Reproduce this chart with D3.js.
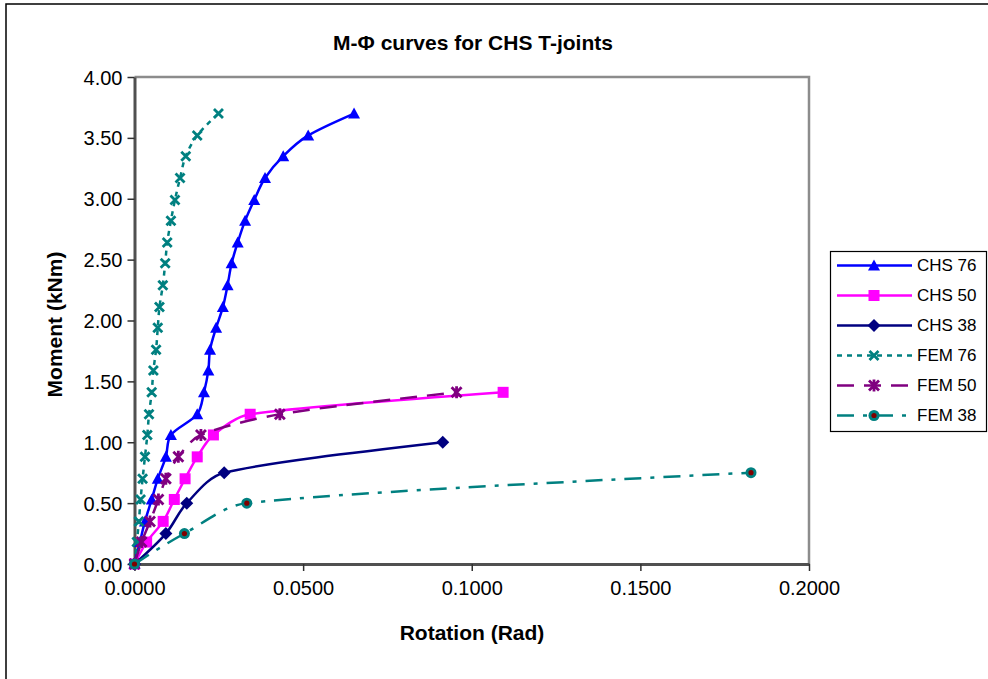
<!DOCTYPE html>
<html>
<head>
<meta charset="utf-8">
<script src="https://cdn.jsdelivr.net/npm/d3@7"></script>
<style>
  html, body { margin: 0; padding: 0; background: #fff; }
  svg { display: block; font-family: Arial, "Liberation Sans", sans-serif; }
</style>
</head>
<body>
<svg id="chart" width="988" height="679"></svg>
<script>
// Moment levels (kNm) and measured rotations (rad) for each joint series
const moment76 = [0, 0.18, 0.35, 0.53, 0.70, 0.88, 1.06, 1.23, 1.41, 1.59, 1.76, 1.94, 2.11, 2.29, 2.47, 2.64, 2.82, 2.99, 3.17, 3.35, 3.52, 3.70];
const chs76Rot = [0, 0.0016, 0.0031, 0.0051, 0.0069, 0.0093, 0.0108, 0.0186, 0.0206, 0.0219, 0.0224, 0.0242, 0.0262, 0.0276, 0.0288, 0.0306, 0.0328, 0.0355, 0.0387, 0.0441, 0.0515, 0.0651];
const fem76Rot = [0, 0.0007, 0.0013, 0.0018, 0.0024, 0.0031, 0.0038, 0.0043, 0.0051, 0.0056, 0.0064, 0.0069, 0.0074, 0.0084, 0.0091, 0.0097, 0.0108, 0.0120, 0.0135, 0.0152, 0.0186, 0.0249];
const moment50 = [0, 0.18, 0.35, 0.53, 0.70, 0.88, 1.06, 1.23, 1.41];
const chs50Rot = [0, 0.0036, 0.0085, 0.0118, 0.0150, 0.0186, 0.0234, 0.0343, 0.1093];
const fem50Rot = [0, 0.0021, 0.0046, 0.0071, 0.0093, 0.0130, 0.0197, 0.0431, 0.0955];
const moment38 = [0, 0.25, 0.50, 0.75, 1.00];
const chs38Rot = [0, 0.0093, 0.0155, 0.0266, 0.0914];
const fem38Moment = [0, 0.25, 0.50, 0.75];
const fem38Rot = [0, 0.0148, 0.0333, 0.1828];

const seriesNames = ["CHS 76", "CHS 50", "CHS 38", "FEM 76", "FEM 50", "FEM 38"];
const xTicks = [0, 0.05, 0.10, 0.15, 0.20];
const yTicks = [0, 0.5, 1.0, 1.5, 2.0, 2.5, 3.0, 3.5, 4.0];

const zip = (xs, ys) => xs.map((x, i) => ({ x, y: ys[i] }));

const series = [
  { name: seriesNames[0], pts: zip(chs76Rot, moment76), color: "#0000ff", dash: null, marker: "triangle" },
  { name: seriesNames[1], pts: zip(chs50Rot, moment50), color: "#ff00ff", dash: null, marker: "square" },
  { name: seriesNames[2], pts: zip(chs38Rot, moment38), color: "#000080", dash: null, marker: "diamond" },
  { name: seriesNames[3], pts: zip(fem76Rot, moment76), color: "#008080", dash: "5,5", marker: "cross" },
  { name: seriesNames[4], pts: zip(fem50Rot, moment50), color: "#800080", dash: "17,10", marker: "star" },
  { name: seriesNames[5], pts: zip(fem38Rot, fem38Moment), color: "#008080", dash: "17,9,4,9", marker: "circle" }
];

const svg = d3.select("#chart");
const plot = { left: 134.5, right: 809, top: 77, bottom: 564 };

const x = d3.scaleLinear().domain([0, 0.2]).range([plot.left, plot.right]);
const y = d3.scaleLinear().domain([0, 4]).range([plot.bottom, plot.top]);

// Outer chart frame
svg.append("rect")
  .attr("x", 6).attr("y", 4).attr("width", 1000).attr("height", 700)
  .attr("fill", "none").attr("stroke", "#000").attr("stroke-width", 1.5);

// Plot area frame (top and right edges)
svg.append("path")
  .attr("d", `M${plot.left},${plot.top}H${plot.right}V${plot.bottom}`)
  .attr("fill", "none").attr("stroke", "#8c8c8c").attr("stroke-width", 2.5);

// Axes
const xAxis = d3.axisBottom(x).tickValues(xTicks).tickFormat(d3.format(".4f")).tickSizeInner(7).tickSizeOuter(0).tickPadding(10);
const yAxis = d3.axisLeft(y).tickValues(yTicks).tickFormat(d3.format(".2f")).tickSizeInner(7).tickSizeOuter(0).tickPadding(5);

const gx = svg.append("g").attr("transform", `translate(0,${plot.bottom})`).call(xAxis);
const gy = svg.append("g").attr("transform", `translate(${plot.left},0)`).call(yAxis);

[gx, gy].forEach(g => {
  g.select(".domain").attr("stroke", "#505050").attr("stroke-width", 3);
  g.selectAll(".tick line").attr("stroke", "#303030").attr("stroke-width", 1.5);
  g.selectAll(".tick text").attr("fill", "#000").style("font-size", "20px").style("font-family", "Arial, 'Liberation Sans', sans-serif");
});
gy.selectAll(".tick text").attr("dy", "0.35em");

// Titles
svg.append("text").attr("x", 473).attr("y", 50).attr("text-anchor", "middle")
  .style("font-size", "21px").style("font-weight", "bold").text("M-Φ curves for CHS T-joints");
svg.append("text").attr("x", 472).attr("y", 640).attr("text-anchor", "middle")
  .style("font-size", "21px").style("font-weight", "bold").text("Rotation (Rad)");
svg.append("text").attr("transform", `translate(62,${(plot.top + plot.bottom) / 2 + 4}) rotate(-90)`)
  .attr("text-anchor", "middle")
  .style("font-size", "21px").style("font-weight", "bold").text("Moment (kNm)");

// Marker shapes
function drawMarker(g, type, color) {
  switch (type) {
    case "triangle":
      g.append("path").attr("d", "M0,-6L6,5H-6Z").attr("fill", color);
      break;
    case "square":
      g.append("rect").attr("x", -5.5).attr("y", -5.5).attr("width", 11).attr("height", 11).attr("fill", color);
      break;
    case "diamond":
      g.append("path").attr("d", "M0,-6.5L6.5,0L0,6.5L-6.5,0Z").attr("fill", color);
      break;
    case "cross":
      g.append("path").attr("d", "M-4.5,-4.5L4.5,4.5M-4.5,4.5L4.5,-4.5")
        .attr("stroke", color).attr("stroke-width", 2.8).attr("fill", "none");
      break;
    case "star":
      g.append("path").attr("d", "M-5,-5L5,5M-5,5L5,-5M0,-6V6")
        .attr("stroke", color).attr("stroke-width", 2.8).attr("fill", "none");
      break;
    case "circle":
      g.append("circle").attr("r", 5.5).attr("fill", color);
      g.append("circle").attr("r", 2.6).attr("fill", "#800000");
      break;
  }
}

// Smoothed line: Catmull-Rom style tangents whose handle length is limited
// by the adjacent segment, so short steps next to long ones do not loop.
function curveSmooth(context) {
  let pts;
  return {
    areaStart() {}, areaEnd() {},
    lineStart() { pts = []; },
    point(px, py) { pts.push([+px, +py]); },
    lineEnd() {
      const n = pts.length;
      if (!n) return;
      context.moveTo(pts[0][0], pts[0][1]);
      if (n === 2) { context.lineTo(pts[1][0], pts[1][1]); return; }
      const cin = [], cout = [];
      for (let i = 1; i < n - 1; i++) {
        const [x0, y0] = pts[i - 1], [x1, y1] = pts[i], [x2, y2] = pts[i + 1];
        let tx = x2 - x0, ty = y2 - y0;
        const tl = Math.hypot(tx, ty) || 1;
        tx /= tl; ty /= tl;
        const d0 = Math.hypot(x1 - x0, y1 - y0), d1 = Math.hypot(x2 - x1, y2 - y1);
        const h0 = Math.min(tl / 6, d0 / 3), h1 = Math.min(tl / 6, d1 / 3);
        cin[i] = [x1 - tx * h0, y1 - ty * h0];
        cout[i] = [x1 + tx * h1, y1 + ty * h1];
      }
      cout[0] = [(pts[0][0] + cin[1][0]) / 2, (pts[0][1] + cin[1][1]) / 2];
      cin[n - 1] = [(pts[n - 1][0] + cout[n - 2][0]) / 2, (pts[n - 1][1] + cout[n - 2][1]) / 2];
      for (let i = 0; i < n - 1; i++) {
        context.bezierCurveTo(cout[i][0], cout[i][1], cin[i + 1][0], cin[i + 1][1], pts[i + 1][0], pts[i + 1][1]);
      }
    }
  };
}

const line = d3.line().x(d => x(d.x)).y(d => y(d.y)).curve(curveSmooth);

series.forEach(s => {
  const g = svg.append("g");
  g.append("path").datum(s.pts).attr("d", line)
    .attr("fill", "none").attr("stroke", s.color).attr("stroke-width", 2.5)
    .attr("stroke-dasharray", s.dash);
  g.selectAll("g.mk").data(s.pts).join("g").attr("class", "mk")
    .attr("transform", d => `translate(${x(d.x)},${y(d.y)})`)
    .each(function () { drawMarker(d3.select(this), s.marker, s.color); });
});

// Legend
const legend = svg.append("g");
legend.append("rect").attr("x", 830.5).attr("y", 251.5).attr("width", 156).attr("height", 180)
  .attr("fill", "#fff").attr("stroke", "#000").attr("stroke-width", 1.2);
series.forEach((s, i) => {
  const ly = 265.5 + i * 30;
  const row = legend.append("g").attr("transform", `translate(0,${ly})`);
  row.append("line").attr("x1", 837).attr("x2", 912).attr("y1", 0).attr("y2", 0)
    .attr("stroke", s.color).attr("stroke-width", 2.5).attr("stroke-dasharray", s.dash);
  drawMarker(row.append("g").attr("transform", "translate(874,0)"), s.marker, s.color);
  row.append("text").attr("x", 917).attr("y", 0).attr("dy", "0.35em")
    .style("font-size", "17px").text(s.name);
});
</script>
</body>
</html>
